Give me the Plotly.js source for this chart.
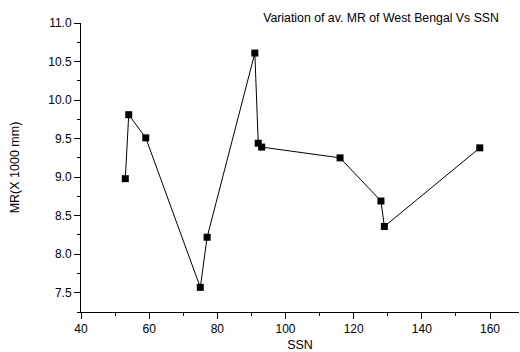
<!DOCTYPE html>
<html><head><meta charset="utf-8">
<script src="https://cdn.plot.ly/plotly-3.0.1.min.js"></script>
<style>html,body{margin:0;padding:0;background:#fff}#chart{width:520px;height:352px}</style>
</head><body><div id="chart"></div>
<script>
const ssn = [53, 54, 59, 75, 77, 91, 92, 93, 116, 128, 129, 157];
const mr = [8.98, 9.81, 9.51, 7.57, 8.22, 10.61, 9.44, 9.39, 9.25, 8.69, 8.36, 9.38];
const chartTitle = "Variation of av. MR of West Bengal Vs SSN";
const xTitle = "SSN";
const yTitle = "MR(X 1000 mm)";

const font = {family: "Liberation Sans, Arial, sans-serif", color: "#000"};
Plotly.newPlot("chart", [{
  x: ssn, y: mr, type: "scatter", mode: "lines+markers",
  line: {color: "#000", width: 1},
  marker: {symbol: "square", size: 7, color: "#000"}
}], {
  width: 520, height: 352,
  margin: {l: 81, r: 1, t: 23, b: 40},
  paper_bgcolor: "#fff", plot_bgcolor: "#fff",
  showlegend: false,
  font: Object.assign({size: 12}, font),
  title: {text: chartTitle, font: Object.assign({size: 12.3}, font), xref: "paper", x: 0.685, xanchor: "center", yref: "container", y: 0.95, yanchor: "middle"},
  xaxis: {
    range: [40, 168.5], tick0: 40, dtick: 20, showgrid: false, zeroline: false,
    showline: true, linecolor: "#000", linewidth: 1,
    ticks: "outside", ticklen: 6, tickcolor: "#000",
    minor: {dtick: 10, ticks: "outside", ticklen: 3, tickcolor: "#000", showgrid: false},
    tickfont: Object.assign({size: 12}, font),
    title: {text: xTitle, font: Object.assign({size: 12.5}, font), standoff: 4}
  },
  yaxis: {
    range: [7.25, 11.0], tick0: 7.5, dtick: 0.5, tickformat: ".1f", showgrid: false, zeroline: false,
    showline: true, linecolor: "#000", linewidth: 1,
    ticks: "outside", ticklen: 6, tickcolor: "#000",
    minor: {dtick: 0.25, ticks: "outside", ticklen: 3, tickcolor: "#000", showgrid: false},
    tickfont: Object.assign({size: 12}, font),
    title: {text: yTitle, font: Object.assign({size: 12.5}, font), standoff: 25}
  }
}, {staticPlot: true});
</script></body></html>
